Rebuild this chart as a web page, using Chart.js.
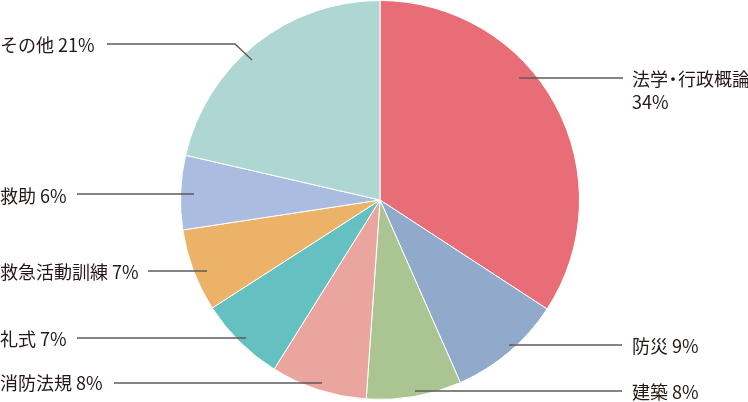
<!DOCTYPE html>
<html lang="ja">
<head>
<meta charset="utf-8">
<script src="https://cdn.jsdelivr.net/npm/chart.js@4/dist/chart.umd.min.js"></script>
<style>
  html, body { margin: 0; padding: 0; background: #fff; }
  #wrap { position: relative; width: 748px; height: 402px; }
</style>
</head>
<body>
<div id="wrap"><canvas id="subjectChart"></canvas></div>
<script>
// --- Data ---
// slice sizes; the labels show them rounded
const categories = ["法学・行政概論", "防災", "建築", "消防法規", "礼式", "救急活動訓練", "救助", "その他"];
const shares = [34.2, 9.2, 7.7, 7.8, 7.0, 6.7, 6.0, 21.4];
const sliceColors = ["#E96D76", "#91A9CB", "#AAC592", "#EAA59F", "#65C0C2", "#EBB268", "#AABDE0", "#AED6D3"];

// where each label sits: text anchor, line points (layout only)
const labelLayout = [
    { tx: 632, ty: 79, line: [[623, 78], [519, 78]], twoLines: true },
    { tx: 632, ty: 346, line: [[622, 345], [509, 345]] },
    { tx: 632, ty: 392, line: [[622, 391], [415, 391]] },
    { tx: 0, ty: 383, line: [[114, 383], [322, 383]] },
    { tx: 0, ty: 339, line: [[77, 338], [246, 338]] },
    { tx: 0, ty: 272, line: [[148, 271], [207, 271]] },
    { tx: 0, ty: 196, line: [[77, 194], [194, 194]] },
    { tx: 0, ty: 45, line: [[107, 44], [235, 44], [252, 60]] }
];

// draw text, squeezing the full-width middle dot like the original typesetting
function drawName(ctx, text, x, y) {
    const parts = text.split('・');
    let cx = x;
    parts.forEach((p, k) => {
        if (k > 0) {
            const dotW = ctx.measureText('・').width;
            ctx.fillText('・', cx - (dotW - 10) / 2, y);
            cx += 10;
        }
        ctx.fillText(p, cx, y);
        cx += ctx.measureText(p).width;
    });
    return cx;
}

const labelPlugin = {
    id: 'leaderLabels',
    afterDraw(chart) {
        const ctx = chart.ctx;
        ctx.save();
        ctx.font = '18px "Noto Sans CJK JP", "Noto Sans", sans-serif';
        ctx.textBaseline = 'middle';
        ctx.textAlign = 'left';
        ctx.fillStyle = '#231815';
        categories.forEach((name, i) => {
            const l = labelLayout[i];
            const pct = Math.round(shares[i]) + '%';
            // leader line
            ctx.strokeStyle = '#5e5a59';
            ctx.lineWidth = 1.3;
            ctx.beginPath();
            l.line.forEach((p, k) => k ? ctx.lineTo(p[0], p[1]) : ctx.moveTo(p[0], p[1]));
            ctx.stroke();
            // text
            if (l.twoLines) {
                drawName(ctx, name, l.tx, l.ty);
                ctx.fillText(pct, l.tx, l.ty + 23);
            } else {
                ctx.fillText(name + ' ' + pct, l.tx, l.ty);
            }
        });
        ctx.restore();
    }
};

const ctx = document.getElementById('subjectChart').getContext('2d');
new Chart(ctx, {
    type: 'pie',
    data: {
        labels: categories,
        datasets: [{
            data: shares,
            backgroundColor: sliceColors,
            borderColor: '#ffffff',
            borderWidth: 1,
            hoverOffset: 0
        }]
    },
    options: {
        responsive: true,
        maintainAspectRatio: false,
        animation: false,
        layout: { padding: { left: 180, right: 168, top: 0, bottom: 2 } },
        plugins: {
            legend: { display: false },
            tooltip: { enabled: false }
        }
    },
    plugins: [labelPlugin]
});
</script>
</body>
</html>
